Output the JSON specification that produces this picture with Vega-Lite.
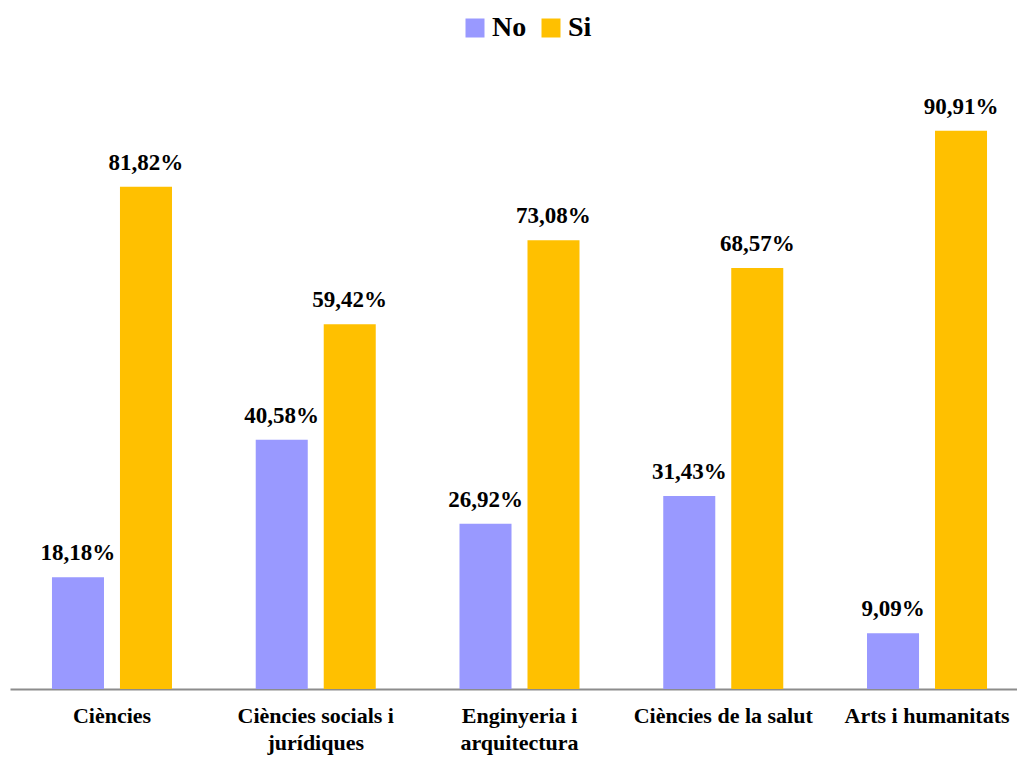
{
  "$schema": "https://vega.github.io/schema/vega-lite/v6.json",
  "autosize": "none",
  "width": 1019,
  "height": 614,
  "padding": {"left": 10, "top": 75, "right": 0, "bottom": 69},
  "background": "white",
  "config": {
    "view": {"stroke": null},
    "font": "Liberation Serif"
  },
  "data": {
    "values": [
      {"area": "Ciències", "resposta": "No", "pct": 18.18, "text": "18,18%"},
      {"area": "Ciències", "resposta": "Si", "pct": 81.82, "text": "81,82%"},
      {"area": "Ciències socials i|jurídiques", "resposta": "No", "pct": 40.58, "text": "40,58%"},
      {"area": "Ciències socials i|jurídiques", "resposta": "Si", "pct": 59.42, "text": "59,42%"},
      {"area": "Enginyeria i|arquitectura", "resposta": "No", "pct": 26.92, "text": "26,92%"},
      {"area": "Enginyeria i|arquitectura", "resposta": "Si", "pct": 73.08, "text": "73,08%"},
      {"area": "Ciències de la salut", "resposta": "No", "pct": 31.43, "text": "31,43%"},
      {"area": "Ciències de la salut", "resposta": "Si", "pct": 68.57, "text": "68,57%"},
      {"area": "Arts i humanitats", "resposta": "No", "pct": 9.09, "text": "9,09%"},
      {"area": "Arts i humanitats", "resposta": "Si", "pct": 90.91, "text": "90,91%"}
    ]
  },
  "encoding": {
    "x": {
      "field": "area", "type": "nominal", "sort": null,
      "scale": {"paddingInner": 0.411, "paddingOuter": 0.206},
      "axis": {
        "title": null, "labelAngle": 0, "ticks": false,
        "domainColor": "#8c8c8c", "domainWidth": 2,
        "labelExpr": "split(datum.label, '|')",
        "labelFont": "Liberation Serif", "labelFontWeight": "bold",
        "labelFontSize": 22, "labelColor": "black", "labelLineHeight": 27,
        "labelPadding": 16, "labelLimit": 0, "labelOverlap": false
      }
    },
    "xOffset": {"field": "resposta", "type": "nominal", "scale": {"paddingInner": 0.235}},
    "y": {"field": "pct", "type": "quantitative", "scale": {"domain": [0, 100]}, "axis": null}
  },
  "layer": [
    {
      "mark": {"type": "bar"},
      "encoding": {
        "color": {
          "field": "resposta", "type": "nominal",
          "scale": {"domain": ["No", "Si"], "range": ["#9999FF", "#FFC000"]},
          "legend": {
            "title": null, "orient": "none", "direction": "horizontal",
            "legendX": 451, "legendY": -61, "padding": 0,
            "symbolType": "square", "symbolSize": 361, "symbolStrokeWidth": 0,
            "labelFont": "Liberation Serif", "labelFontWeight": "bold",
            "labelFontSize": 28, "labelColor": "black", "columnPadding": 10, "labelOffset": 3
          }
        }
      }
    },
    {
      "mark": {"type": "text", "dy": -24, "font": "Liberation Serif", "fontWeight": "bold", "fontSize": 23, "color": "black"},
      "encoding": {"text": {"field": "text"}}
    }
  ]
}
